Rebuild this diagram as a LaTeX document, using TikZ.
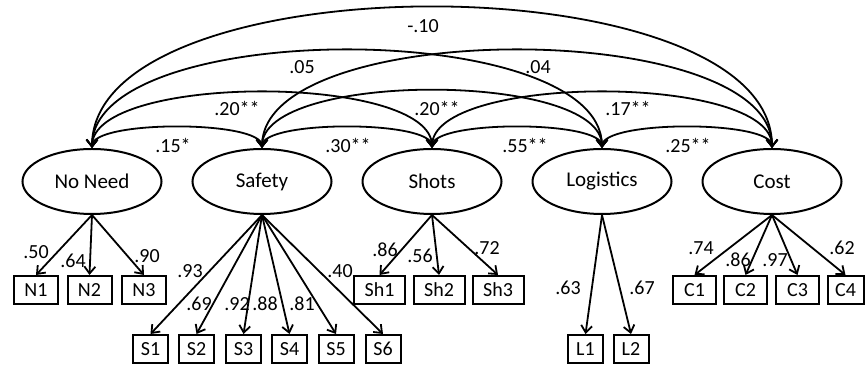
\documentclass[tikz,border=0pt]{standalone}
\usepackage{fontspec}
\setmainfont{Carlito}
\usetikzlibrary{shapes.geometric,arrows.meta}
\begin{document}
\begin{tikzpicture}[x=1pt,y=1pt,
  lat/.style={ellipse,draw,line width=2pt,minimum width=139pt,minimum height=65pt,inner sep=0pt,font=\fontsize{21}{25}\selectfont},
  obs/.style={rectangle,draw,line width=2pt,minimum height=28pt,inner sep=0pt,font=\fontsize{20}{24}\selectfont},
  lab/.style={inner sep=0pt,font=\fontsize{20}{24}\selectfont},
  tipb/.tip={Straight Barb[length=7pt,width=11pt,line width=1.8pt]},
  load/.style={-tipb,line width=1.8pt},
  cov/.style={tipb-tipb,line width=1.8pt}]
\useasboundingbox (0,0) rectangle (866,369);

% latent variables
\node[lat] (nn) at (92,187.5) {No Need};
\node[lat] (sa) at (262,187.5) {Safety};
\node[lat] (sh) at (432,187.5) {Shots};
\node[lat] (lo) at (602,187.5) {Logistics};
\node[lat] (co) at (772,187.5) {Cost};

% indicators
\node[obs,minimum width=44pt] (n1) at (36,79) {N1};
\node[obs,minimum width=44pt] (n2) at (89.5,79) {N2};
\node[obs,minimum width=44pt] (n3) at (144,79) {N3};
\node[obs,minimum width=35pt] (s1) at (150.5,20) {S1};
\node[obs,minimum width=35pt] (s2) at (196.5,20) {S2};
\node[obs,minimum width=35pt] (s3) at (243.5,20) {S3};
\node[obs,minimum width=35pt] (s4) at (289.5,20) {S4};
\node[obs,minimum width=35pt] (s5) at (336,20) {S5};
\node[obs,minimum width=35pt] (s6) at (383,20) {S6};
\node[obs,minimum width=51pt] (h1) at (379.5,79) {Sh1};
\node[obs,minimum width=51pt] (h2) at (439,79) {Sh2};
\node[obs,minimum width=51pt] (h3) at (498,79) {Sh3};
\node[obs,minimum width=35pt] (l1) at (585.5,20) {L1};
\node[obs,minimum width=35pt] (l2) at (631,20) {L2};
\node[obs,minimum width=43pt] (c1) at (694.5,79) {C1};
\node[obs,minimum width=43pt] (c2) at (745.5,79) {C2};
\node[obs,minimum width=43pt] (c3) at (797.5,79) {C3};
\node[obs,minimum width=36pt] (c4) at (845.5,79) {C4};

% loadings
\foreach \t in {n1,n2,n3} \draw[load] (nn.south) -- (\t.north);
\foreach \t in {s1,s2,s3,s4,s5,s6} \draw[load] (sa.south) -- (\t.north);
\foreach \t in {h1,h2,h3} \draw[load] (sh.south) -- (\t.north);
\foreach \t in {l1,l2} \draw[load] (lo.south) -- (\t.north);
\foreach \t in {c1,c2,c3,c4} \draw[load] (co.south) -- (\t.north);

% covariances
\draw[cov] (nn.north) .. controls +(0,28) and +(0,28) .. (sa.north);
\draw[cov] (sa.north) .. controls +(0,28) and +(0,28) .. (sh.north);
\draw[cov] (sh.north) .. controls +(0,28) and +(0,28) .. (lo.north);
\draw[cov] (lo.north) .. controls +(0,28) and +(0,28) .. (co.north);
\draw[cov] (nn.north) .. controls +(0,74.7) and +(0,74.7) .. (sh.north);
\draw[cov] (sa.north) .. controls +(0,77) and +(0,77) .. (lo.north);
\draw[cov] (sh.north) .. controls +(0,74.7) and +(0,74.7) .. (co.north);
\draw[cov] (nn.north) .. controls +(0,130.7) and +(0,130.7) .. (lo.north);
\draw[cov] (sa.north) .. controls +(0,130.7) and +(0,130.7) .. (co.north);
\draw[cov] (nn.north) .. controls +(0,188) and +(0,188) .. (co.north);

% covariance labels
\node[lab] (k1) at (423,343) {-.10};
\node[lab] (k2) at (302,302) {.05};
\node[lab] (k3) at (538,302) {.04};
\node[lab] (k4) at (237,261) {.20**};
\node[lab] (k5) at (437,261) {.20**};
\node[lab] (k6) at (628,261) {.17**};
\node[lab] (k7) at (173,224) {.15*};
\node[lab] (k8) at (348,224) {.30**};
\node[lab] (k9) at (525,224) {.55**};
\node[lab] (k10) at (688,224) {.25**};

% loading labels
\node[lab] (a1) at (36,117) {.50};
\node[lab] (a2) at (73,108) {.64};
\node[lab] (a3) at (147,113) {.90};
\node[lab] (a4) at (190,98) {.93};
\node[lab] (a5) at (199,65) {.69};
\node[lab] (a6) at (237,65) {.92};
\node[lab] (a7) at (265,65) {.88};
\node[lab] (a8) at (302,65) {.81};
\node[lab] (a9) at (340,98) {.40};
\node[lab] (a10) at (385,119) {.86};
\node[lab] (a11) at (420,113) {.56};
\node[lab] (a12) at (487,121) {.72};
\node[lab] (a13) at (568,81) {.63};
\node[lab] (a14) at (642,81) {.67};
\node[lab] (a15) at (701,121) {.74};
\node[lab] (a16) at (738,109) {.86};
\node[lab] (a17) at (775,109) {.97};
\node[lab] (a18) at (842,121) {.62};
\end{tikzpicture}
\end{document}
